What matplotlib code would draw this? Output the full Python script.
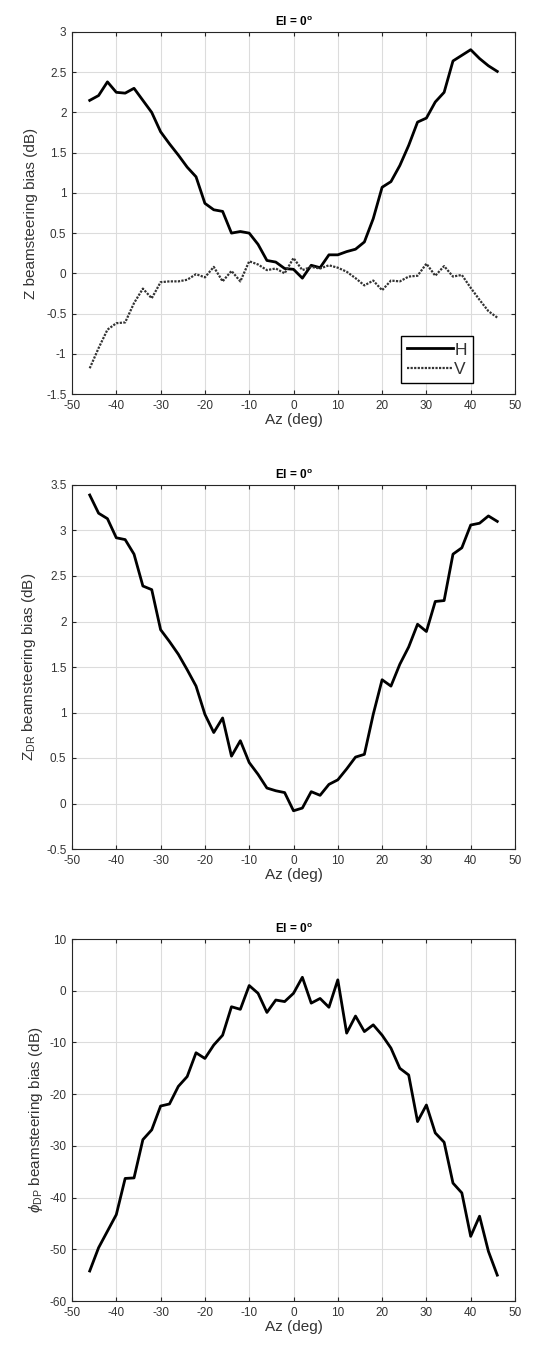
import numpy as np
import matplotlib
matplotlib.use("Agg")
import matplotlib.pyplot as plt

plt.rcParams['font.family'] = ['Liberation Sans', 'DejaVu Sans']
plt.rcParams['mathtext.fontset'] = 'custom'
plt.rcParams['mathtext.rm'] = 'Liberation Sans'
plt.rcParams['mathtext.it'] = 'Liberation Sans:italic'
plt.rcParams['mathtext.bf'] = 'Liberation Sans:bold'
plt.rcParams['axes.unicode_minus'] = False

az = list(range(-46, 47, 2))

z_h = [2.15, 2.21, 2.38, 2.25, 2.24, 2.30, 2.15, 2.00, 1.76, 1.61, 1.47, 1.32,
       1.20, 0.87, 0.79, 0.77, 0.50, 0.52, 0.50, 0.36, 0.16, 0.14, 0.06,
       0.05, -0.06, 0.10, 0.07, 0.23, 0.23, 0.27, 0.30, 0.39, 0.68, 1.07,
       1.14, 1.34, 1.59, 1.88, 1.93, 2.13, 2.25, 2.64, 2.71, 2.78, 2.67,
       2.58, 2.51]

z_v = [-1.18, -0.93, -0.70, -0.62, -0.61, -0.37, -0.19, -0.31, -0.11, -0.10,
       -0.10, -0.08, -0.01, -0.05, 0.08, -0.10, 0.03, -0.10, 0.15, 0.11,
       0.04, 0.06, 0.00,
       0.19, 0.04, 0.08, 0.06, 0.10, 0.07, 0.02, -0.06, -0.15, -0.09, -0.21,
       -0.09, -0.10, -0.04, -0.03, 0.12, -0.03, 0.09, -0.04, -0.02, -0.18,
       -0.33, -0.47, -0.55]

zdr = [3.39, 3.19, 3.13, 2.92, 2.90, 2.74, 2.39, 2.35, 1.91, 1.78, 1.64, 1.47,
       1.29, 0.98, 0.78, 0.94, 0.52, 0.69, 0.45, 0.32, 0.17, 0.14, 0.12,
       -0.08, -0.05, 0.13, 0.09, 0.21, 0.26, 0.38, 0.51, 0.54, 0.98, 1.36,
       1.29, 1.53, 1.72, 1.97, 1.89, 2.22, 2.23, 2.74, 2.81, 3.06, 3.08,
       3.16, 3.10]

phidp = [-54.2, -49.7, -46.5, -43.3, -36.3, -36.2, -28.8, -26.9, -22.3, -21.9,
         -18.5, -16.6, -12.0, -13.1, -10.5, -8.6, -3.1, -3.6, 1.0, -0.5,
         -4.2, -1.8, -2.1,
         -0.5, 2.6, -2.4, -1.5, -3.2, 2.1, -8.2, -4.9, -7.9, -6.6, -8.6,
         -11.1, -15.0, -16.3, -25.3, -22.1, -27.5, -29.3, -37.2, -39.1,
         -47.5, -43.6, -50.4, -55.0]

xticks = list(range(-50, 51, 10))
yticks1 = [-1.5, -1, -0.5, 0, 0.5, 1, 1.5, 2, 2.5, 3]
yticks2 = [-0.5, 0, 0.5, 1, 1.5, 2, 2.5, 3, 3.5]
yticks3 = [-60, -50, -40, -30, -20, -10, 0, 10]

title = r'El = 0$^{\mathbf{o}}$'
ylabels = ['Z beamsteering bias (dB)',
           r'Z$_{\mathrm{DR}}$ beamsteering bias (dB)',
           r'$\phi_{\mathrm{DP}}$ beamsteering bias (dB)']

fig = plt.figure(figsize=(5.40, 13.49), dpi=100)
L, W = 72 / 540, 443 / 540
H = 1349
rects = [(L, 1 - 394 / H, W, 362 / H),
         (L, 1 - 849 / H, W, 364 / H),
         (L, 1 - 1301 / H, W, 362 / H)]
axes = [fig.add_axes(r) for r in rects]


def style(ax, yt):
    ax.set_xlim(-50, 50)
    ax.set_xticks(xticks)
    ax.set_yticks(yt)
    ax.set_ylim(yt[0], yt[-1])
    ax.set_yticklabels([('%g' % v) for v in yt])
    ax.grid(True, color='#dcdcdc', linewidth=0.8)
    ax.set_axisbelow(True)
    ax.tick_params(direction='in', top=True, right=True, length=3,
                   labelsize=8.5, colors='#262626', labelcolor='#333333', pad=4)
    for s in ax.spines.values():
        s.set_color('#262626')
        s.set_linewidth(0.8)
    ax.set_xlabel('Az (deg)', fontsize=11, color='#333333', labelpad=1)
    ax.set_title(title, fontsize=8.5, fontweight='bold', pad=4)


ax = axes[0]
ax.plot(az, z_h, color='black', linewidth=2, label='H')
ax.plot(az, z_v, color='#333333', linewidth=1.6, linestyle=(0, (1, 0.6)), label='V')
style(ax, yticks1)
ax.set_ylabel(ylabels[0], fontsize=11, color='#333333', labelpad=6)
leg = ax.legend(loc='lower right', bbox_to_anchor=(0.905, 0.03), fontsize=12.5,
                fancybox=False, edgecolor='black', framealpha=1,
                handlelength=2.6, handletextpad=0.1, borderpad=0.35,
                labelspacing=0.25, borderaxespad=0)
leg.get_frame().set_linewidth(1.0)
for t in leg.get_texts():
    t.set_color('#333333')

ax = axes[1]
ax.plot(az, zdr, color='black', linewidth=2)
style(ax, yticks2)
ax.set_ylabel(ylabels[1], fontsize=11, color='#333333', labelpad=6)

ax = axes[2]
ax.plot(az, phidp, color='black', linewidth=2)
style(ax, yticks3)
ax.set_ylabel(ylabels[2], fontsize=11, color='#333333', labelpad=3)

fig.savefig('out.png', dpi=100)
